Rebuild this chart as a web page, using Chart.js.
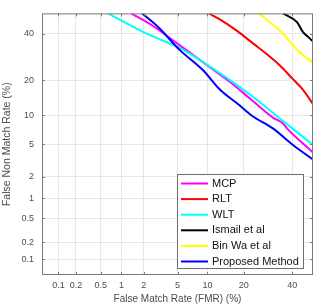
<!DOCTYPE html>
<html>
<head>
<meta charset="utf-8">
<script src="https://cdn.jsdelivr.net/npm/chart.js@4.4.1/dist/chart.umd.min.js"></script>
<style>
  html, body { margin: 0; padding: 0; background: #fff; }
  #wrap { width: 315px; height: 307px; }
</style>
</head>
<body>
<div id="wrap"><canvas id="detChart" width="315" height="307"></canvas></div>
<script>
// tick labels (percent) used on both axes
const tickLabels = ["0.1", "0.2", "0.5", "1", "2", "5", "10", "20", "40"];

// series names and colours
const seriesNames = ["MCP", "RLT", "WLT", "Ismail et al", "Bin Wa et al", "Proposed Method"];
const seriesColors = ["#ff00ff", "#ff0000", "#00ffff", "#000000", "#ffff00", "#0000ff"];

// FMR (%) / FNMR (%) per series
const mcpFmr  = [1.36, 2.6, 5.3, 10.6, 15.7, 22.2, 31.3, 35.8, 37.6, 50];
const mcpFnmr = [50, 43.7, 34.4, 24.8, 19.4, 14.2, 9.5, 8.3, 7.4, 4.0];

const rltFmr  = [10.3, 12.9, 17.8, 23.3, 29.2, 34.4, 40.4, 45.1, 50];
const rltFnmr = [50, 47.0, 41.3, 35.3, 30.0, 25.6, 20.4, 16.9, 12.7];

const wltFmr  = [0.64, 1.95, 3.6, 5.3, 9.9, 22.2, 34.4, 50];
const wltFnmr = [50, 40.8, 36.2, 33.1, 26.0, 15.4, 9.3, 4.9];

const ismailFmr  = [35.8, 42.3, 45.1, 47.5, 50];
const ismailFnmr = [50, 45.6, 40.8, 38.5, 36.2];

const binWaFmr  = [25.6, 30.0, 35.8, 40.4, 45.1, 50];
const binWaFnmr = [50, 45.6, 39.9, 34.4, 30.0, 26.8];

const proposedFmr  = [1.9, 3.0, 5.3, 9.1, 12.9, 18.1, 22.9, 31.3, 40.4, 50];
const proposedFnmr = [50, 43.2, 32.2, 23.7, 16.9, 12.7, 9.9, 7.4, 4.9, 3.3];

const fmrSeries  = [mcpFmr, rltFmr, wltFmr, ismailFmr, binWaFmr, proposedFmr];
const fnmrSeries = [mcpFnmr, rltFnmr, wltFnmr, ismailFnmr, binWaFnmr, proposedFnmr];

// inverse normal CDF (Acklam), DET plots use normal deviate axes
function probit(p) {
  const a = [-3.969683028665376e+01, 2.209460984245205e+02, -2.759285104469687e+02, 1.383577518672690e+02, -3.066479806614716e+01, 2.506628277459239e+00];
  const b = [-5.447609879822406e+01, 1.615858368580409e+02, -1.556989798598866e+02, 6.680131188771972e+01, -1.328068155288572e+01];
  const c = [-7.784894002430293e-03, -3.223964580411365e-01, -2.400758277161838e+00, -2.549671010134592e+00, 4.374664141464968e+00, 2.938163982698783e+00];
  const d = [7.784695709041462e-03, 3.224671290700398e-01, 2.445134137142996e+00, 3.754408661907416e+00];
  const plow = 0.02425;
  let q, r;
  if (p < plow) {
    q = Math.sqrt(-2 * Math.log(p));
    return (((((c[0]*q+c[1])*q+c[2])*q+c[3])*q+c[4])*q+c[5]) / ((((d[0]*q+d[1])*q+d[2])*q+d[3])*q+1);
  }
  if (p <= 1 - plow) {
    q = p - 0.5; r = q * q;
    return (((((a[0]*r+a[1])*r+a[2])*r+a[3])*r+a[4])*r+a[5])*q / (((((b[0]*r+b[1])*r+b[2])*r+b[3])*r+b[4])*r+1);
  }
  q = Math.sqrt(-2 * Math.log(1 - p));
  return -(((((c[0]*q+c[1])*q+c[2])*q+c[3])*q+c[4])*q+c[5]) / ((((d[0]*q+d[1])*q+d[2])*q+d[3])*q+1);
}

const pz = (pct) => probit(pct / 100);
const axisMin = pz(0.05);
const axisMax = 0;

const datasets = seriesNames.map((name, i) => ({
  label: name,
  data: fmrSeries[i].map((x, j) => ({ x: pz(x), y: pz(fnmrSeries[i][j]) })),
  showLine: true,
  borderColor: seriesColors[i],
  backgroundColor: seriesColors[i],
  borderWidth: 2,
  pointRadius: 0,
  cubicInterpolationMode: "monotone",
  order: seriesNames.length - i, // later series on top like matlab
}));

const fontFam = "'Liberation Sans', Arial, sans-serif";

function probitTicks(scale) {
  scale.ticks = tickLabels.map(t => ({ value: pz(parseFloat(t)) }));
}

// box around the plot with inward tick marks
const axesBox = {
  id: "axesBox",
  afterDatasetsDraw(chart) {
    const { ctx, chartArea: a, scales } = chart;
    ctx.save();
    ctx.strokeStyle = "#7a7a7a";
    ctx.lineWidth = 1;
    ctx.beginPath();
    scales.x.ticks.forEach(t => {
      const px = Math.round(scales.x.getPixelForValue(t.value)) + 0.5;
      ctx.moveTo(px, a.bottom); ctx.lineTo(px, a.bottom - 3);
      ctx.moveTo(px, a.top); ctx.lineTo(px, a.top + 3);
    });
    scales.y.ticks.forEach(t => {
      const py = Math.round(scales.y.getPixelForValue(t.value)) + 0.5;
      ctx.moveTo(a.left, py); ctx.lineTo(a.left + 3, py);
      ctx.moveTo(a.right, py); ctx.lineTo(a.right - 3, py);
    });
    ctx.stroke();
    ctx.strokeRect(a.left + 0.5, a.top + 0.5, a.right - a.left - 1, a.bottom - a.top - 1);
    ctx.restore();
  },
  afterDraw(chart) {
    // legend box in lower right, like the figure
    const { ctx } = chart;
    const x0 = 177, y0 = 174, w = 126, h = 94, rowH = 15.6;
    ctx.save();
    ctx.fillStyle = "#ffffff";
    ctx.fillRect(x0, y0, w, h);
    ctx.strokeStyle = "#6e6e6e";
    ctx.lineWidth = 1;
    ctx.strokeRect(x0 + 0.5, y0 + 0.5, w, h);
    ctx.font = "11px " + fontFam;
    ctx.textBaseline = "middle";
    chart.data.datasets.forEach((ds, i) => {
      const cy = y0 + 9.5 + i * rowH;
      ctx.strokeStyle = ds.borderColor;
      ctx.lineWidth = 2;
      ctx.beginPath();
      ctx.moveTo(x0 + 4, cy); ctx.lineTo(x0 + 31, cy);
      ctx.stroke();
      ctx.fillStyle = "#111";
      ctx.fillText(ds.label, x0 + 35, cy);
    });
    ctx.restore();
  }
};

const ctx = document.getElementById("detChart").getContext("2d");
const detChart = new Chart(ctx, {
  type: "scatter",
  data: { datasets },
  options: {
    responsive: false,
    animation: false,
    layout: { padding: { top: 4, right: 2, left: 0, bottom: 0 } },
    plugins: { legend: { display: false }, tooltip: { enabled: false } },
    scales: {
      x: {
        type: "linear",
        min: axisMin,
        max: axisMax,
        afterBuildTicks: probitTicks,
        afterFit: (s) => { s.height = 32; },
        grid: { color: "#e6e6e6", drawTicks: false },
        border: { display: false },
        ticks: {
          padding: 5,
          color: "#4d4d4d",
          font: { family: fontFam, size: 9 },
          maxRotation: 0,
          autoSkip: false,
          callback: (v, i) => tickLabels[i],
        },
        title: {
          display: true,
          text: "False Match Rate (FMR) (%)",
          color: "#4d4d4d",
          font: { family: fontFam, size: 10 },
          padding: { top: 0, bottom: 2 },
        },
      },
      y: {
        type: "linear",
        min: axisMin,
        max: axisMax,
        afterBuildTicks: probitTicks,
        afterFit: (s) => { s.width = 42; },
        grid: { color: "#e6e6e6", drawTicks: false },
        border: { display: false },
        ticks: {
          padding: 8,
          color: "#4d4d4d",
          font: { family: fontFam, size: 9 },
          autoSkip: false,
          callback: (v, i) => tickLabels[i],
        },
        title: {
          display: true,
          text: "False Non Match Rate (%)",
          color: "#4d4d4d",
          font: { family: fontFam, size: 10.5 },
          padding: { top: 1, bottom: 0 },
        },
      },
    },
  },
  plugins: [axesBox],
});
</script>
</body>
</html>
